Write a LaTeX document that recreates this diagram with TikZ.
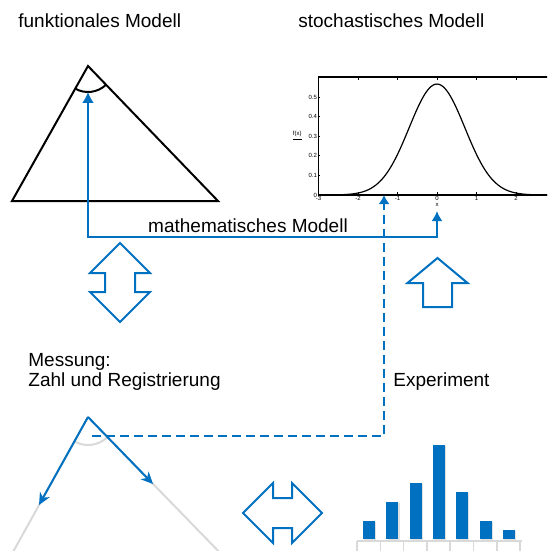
\documentclass[tikz,border=0pt]{standalone}
\usepackage{fontspec}
\setmainfont{Liberation Sans}
\usetikzlibrary{arrows.meta}
\tikzset{>=Latex}

\begin{document}
\begin{tikzpicture}[x=0.5pt, y=-0.5pt,
    caption/.style={anchor=base west, inner sep=0pt, font=\fontsize{9.5}{11}\selectfont},
    blueline/.style={mBlue, line width=1pt},
    greyline/.style={mGrey, line width=1pt},
    bigarrow/.style={draw=mBlue, fill=white, line width=1pt, line join=miter},
    ticklbl/.style={inner sep=0.6pt, font=\fontsize{3}{3.5}\selectfont}]

% ---------------------------------------------------------------------------
% Color aliases
% ---------------------------------------------------------------------------
\definecolor{mBlue}{HTML}{0070C0}
\definecolor{mGrey}{HTML}{D9D9D9}

\clip (0,0) rectangle (547,551);

% ---------------------------------------------------------------------------
% Headings and texts
% ---------------------------------------------------------------------------
\node[caption] (funcTitle) at (18,28) {funktionales Modell};
\node[caption] (stochTitle) at (298,28) {stochastisches Modell};
\node[caption, anchor=base] (mathModel) at (248,232) {mathematisches Modell};
\node[caption] (measure) at (28,366) {Messung:};
\node[caption] (measureSub) at (28,386) {Zahl und Registrierung};
\node[caption] (experiment) at (393,386) {Experiment};

% ===========================================================================
%  FUNCTIONAL MODEL  -- triangle with angle
% ===========================================================================
\coordinate (topApex) at (88,66);
\coordinate (topLeft) at (12,201);
\coordinate (topRight) at (218,201);
\draw[line width=1pt, line join=miter] (topApex) -- (topLeft) -- (topRight) -- cycle;
\draw[line width=1pt] (topApex) ++(46.5:26) arc[start angle=46.5, end angle=119.4, radius=26];

% ===========================================================================
%  STOCHASTIC MODEL  -- normal density plot
% ===========================================================================
\begin{scope}[shift={(437,195)}, x=19.75pt, y=98pt]
    % box and ticks
    \draw[line width=0.6pt] (-3,0) rectangle (3,0.602);
    \foreach \t in {-3,...,3} {
        \draw[line width=0.4pt] (\t,0) -- (\t,0.014);
        \draw[line width=0.4pt] (\t,0.602) -- (\t,0.588);
    }
    \foreach \t in {-3,...,2} {
        \node[ticklbl, below] at (\t,0) {\t};
    }
    \foreach \v in {0,0.1,0.2,0.3,0.4,0.5} {
        \draw[line width=0.4pt] (-3,\v) -- (-2.96,\v);
        \node[ticklbl, left] at (-3,\v) {\v};
    }
    \node[ticklbl] (yLabel) at (-3.54,0.3) {\underline{f(x)}};
    \node[ticklbl] (xLabel) at (0,-0.05) {x};
    % density curve
    \draw[line width=0.6pt, domain=-3:3, samples=121, smooth]
        plot (\x, {0.566*exp(-\x*\x/0.994)});
\end{scope}

% ---------------------------------------------------------------------------
% Link between both models
% ---------------------------------------------------------------------------
\coordinate (angleTip) at (88,92);
\coordinate (mmLeft) at (88,237);
\coordinate (mmRight) at (437,237);
\coordinate (meanTip) at (437,211);
\draw[blueline, {Latex[length=5.5pt,width=6pt]}-{Latex[length=5pt,width=5.5pt]}]
    (angleTip) -- (mmLeft) -- (mmRight) -- (meanTip);

% ===========================================================================
%  MEASUREMENT  -- angle between two directions
% ===========================================================================
\coordinate (botApex) at (88,417);
\coordinate (botLeftEnd) at (8,561);
\coordinate (botRightEnd) at (228,561);
\coordinate (vecA) at (39,505);
\coordinate (vecB) at (153,484);
\draw[greyline] (botLeftEnd) -- (botApex) -- (botRightEnd);
\draw[greyline] (botApex) ++(45.9:28) arc[start angle=45.9, end angle=119.1, radius=28];
\draw[blueline, -{Stealth[length=6pt,width=5.5pt,inset=1.8pt]}] (botApex) -- (vecA);
\draw[blueline, -{Stealth[length=6pt,width=5.5pt,inset=1.8pt]}] (botApex) -- (vecB);

% Dashed link: measurement -> sample on the density axis
\coordinate (dashStart) at (92,436);
\coordinate (dashCorner) at (384,436);
\coordinate (sampleTip) at (384,195);
\draw[blueline, dash pattern=on 4.5pt off 2.5pt, -{Latex[length=4.5pt,width=5.5pt]}]
    (dashStart) -- (dashCorner) -- (sampleTip);

% ===========================================================================
%  EXPERIMENT  -- histogram
% ===========================================================================
\foreach \i/\h in {0/18, 1/37, 2/56, 3/94, 4/47, 5/18, 6/9} {
    \fill[black!12] ({364.2+23.3*\i},540) rectangle ++(12,-\h);
    \fill[mBlue] ({363+23.3*\i},539) rectangle ++(12,-\h);
}
\draw[greyline, line width=0.8pt] (357,541) -- (522,541);
\foreach \k in {0,...,7} {
    \draw[greyline, line width=0.8pt] ({357+23.3*\k},541) -- ++(0,12);
}

% ---------------------------------------------------------------------------
% Block arrows
% ---------------------------------------------------------------------------
\draw[bigarrow] (120,243) -- (150,273) -- (135,273) -- (135,292) -- (150,292)
    -- (120,322) -- (90,292) -- (105,292) -- (105,273) -- (90,273) -- cycle;
\draw[bigarrow] (437.5,258) -- (467.5,283) -- (452,283) -- (452,307)
    -- (423,307) -- (423,283) -- (407.5,283) -- cycle;
\draw[bigarrow] (243,513) -- (273,483) -- (273,498) -- (292,498) -- (292,483)
    -- (322,513) -- (292,543) -- (292,528) -- (273,528) -- (273,543) -- cycle;

\end{tikzpicture}
\end{document}
